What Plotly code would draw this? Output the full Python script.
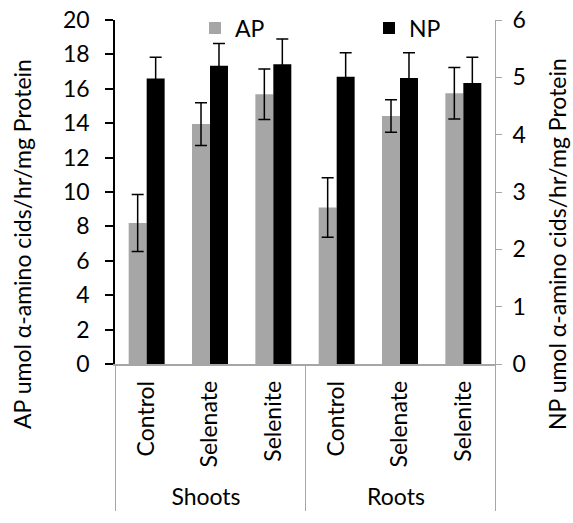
import plotly.graph_objects as go

groups = ["Shoots", "Shoots", "Shoots", "Roots", "Roots", "Roots"]
treatments = ["Control", "Selenate", "Selenite", "Control", "Selenate", "Selenite"]
ap_values = [8.2, 13.95, 15.68, 9.1, 14.42, 15.74]
ap_errors = [1.66, 1.24, 1.47, 1.73, 0.95, 1.5]
np_values = [4.98, 5.2, 5.23, 5.01, 4.99, 4.9]
np_errors = [0.37, 0.39, 0.44, 0.42, 0.44, 0.45]
left_ticks = [0, 2, 4, 6, 8, 10, 12, 14, 16, 18, 20]
right_ticks = [0, 1, 2, 3, 4, 5, 6]
left_title = "AP umol α-amino cids/hr/mg Protein"
right_title = "NP umol α-amino cids/hr/mg Protein"

FONT = "Lato"
FS = 23
GRAY_LINE = "#a6a6a6"

# plot area in pixels
L, R, T, B = 115, 495, 20, 364
W, H = 573, 523

def px_x(x):
    return (x - L) / (R - L)

def px_y(y):
    return (B - y) / (B - T)

fig = go.Figure()
fig.add_trace(go.Bar(
    x=[groups, treatments], y=ap_values, name="AP",
    marker=dict(color="#a6a6a6", line=dict(width=0)),
    width=0.284, offset=-0.284,
    error_y=dict(type="data", array=ap_errors, color="black", thickness=1.5, width=6),
    yaxis="y", legend="legend",
))
fig.add_trace(go.Bar(
    x=[groups, treatments], y=np_values, name="NP",
    marker=dict(color="#000000", line=dict(width=0)),
    width=0.284, offset=0,
    error_y=dict(type="data", array=np_errors, color="black", thickness=1.5, width=6),
    yaxis="y2", legend="legend2",
))

fig.update_layout(
    width=W, height=H,
    margin=dict(l=L, r=W - R, t=T, b=H - B, autoexpand=False),
    paper_bgcolor="white", plot_bgcolor="white",
    font=dict(family=FONT, size=FS, color="black"),
    showlegend=True,
    legend=dict(x=px_x(195), y=px_y(28), xanchor="left", yanchor="middle",
                bgcolor="rgba(0,0,0,0)", font=dict(size=FS), itemwidth=30),
    legend2=dict(x=px_x(369), y=px_y(28), xanchor="left", yanchor="middle",
                 bgcolor="rgba(0,0,0,0)", font=dict(size=FS), itemwidth=30),
    xaxis=dict(
        type="multicategory", showline=True, linecolor=GRAY_LINE, linewidth=1.5,
        showgrid=False, ticks="", tickangle=-90, showdividers=True,
        dividercolor=GRAY_LINE, dividerwidth=1, tickfont=dict(size=FS),
        ticklabelstandoff=6, automargin=False,
    ),
    yaxis=dict(
        range=[0, 20], tickvals=left_ticks, showgrid=False, zeroline=False,
        showline=True, linecolor="black", linewidth=1.5,
        ticks="outside", ticklen=8, tickcolor="black", tickwidth=1.5,
        ticklabelstandoff=11, automargin=False,
    ),
    yaxis2=dict(
        range=[0, 6], tickvals=right_ticks, overlaying="y", side="right",
        showgrid=False, zeroline=False,
        showline=True, linecolor=GRAY_LINE, linewidth=1,
        ticks="outside", ticklen=6, tickcolor=GRAY_LINE,
        ticklabelstandoff=6, automargin=False,
    ),
    annotations=[
        dict(text=left_title, xref="paper", yref="paper", x=px_x(22), y=px_y(244),
             xanchor="center", yanchor="middle", textangle=-90, showarrow=False,
             font=dict(size=FS)),
        dict(text=right_title, xref="paper", yref="paper", x=px_x(557), y=px_y(244),
             xanchor="center", yanchor="middle", textangle=-90, showarrow=False,
             font=dict(size=FS)),
    ],
)

fig.write_html(
    "out.html",
    config={"displayModeBar": False},
    post_script="document.body.style.margin='0';document.body.style.padding='0';",
)
